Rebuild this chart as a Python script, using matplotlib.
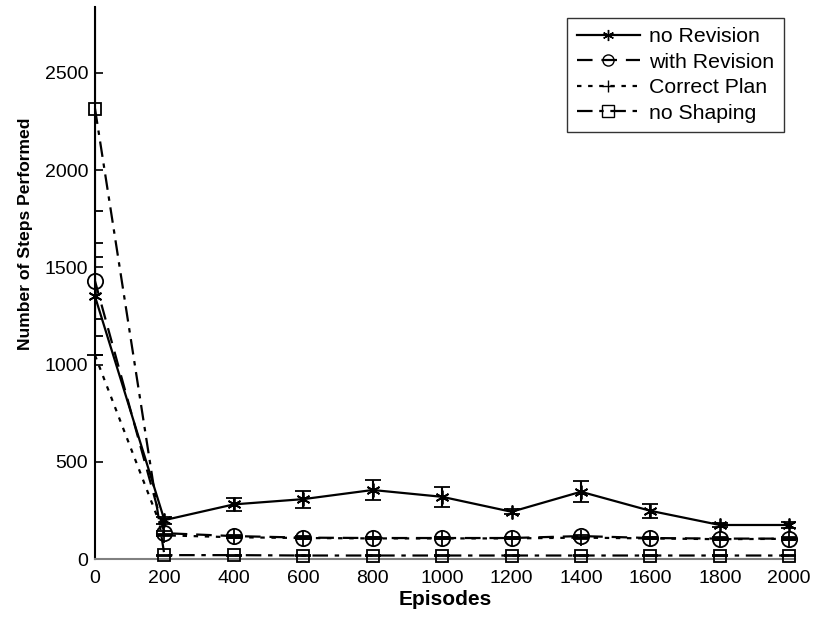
import matplotlib
matplotlib.use("Agg")
import matplotlib.pyplot as plt

plt.rcParams['font.family'] = ['Liberation Sans', 'DejaVu Sans']

episodes = [0, 200, 400, 600, 800, 1000, 1200, 1400, 1600, 1800, 2000]

no_revision = [1351, 200, 281, 308, 355, 320, 243, 346, 248, 175, 175]
no_revision_err = [203, 18, 32, 44, 53, 52, 14, 54, 36, 12, 15]

with_revision = [1430, 133, 118, 110, 108, 108, 108, 118, 108, 105, 105]
with_revision_err = [193, 10, 8, 8, 6, 6, 6, 8, 6, 6, 6]

correct_plan = [1048, 122, 112, 108, 106, 106, 106, 110, 106, 102, 104]
correct_plan_err = [0, 6, 5, 5, 5, 5, 5, 5, 5, 5, 5]

no_shaping = [2317, 20, 20, 18, 18, 18, 18, 18, 18, 18, 18]
no_shaping_err = [525, 3, 3, 3, 3, 3, 3, 3, 3, 3, 3]

labels = ['no Revision', 'with Revision', 'Correct Plan', 'no Shaping']
x_ticks = [0, 200, 400, 600, 800, 1000, 1200, 1400, 1600, 1800, 2000]
y_ticks = [0, 500, 1000, 1500, 2000, 2500]

fig = plt.figure(figsize=(8.16, 6.19), dpi=100)
ax = fig.add_axes([0.1164, 0.0969, 0.858, 0.892])

asterisk = (6, 2, 0)
common = dict(color='black', lw=1.6, capsize=6, elinewidth=1.5, capthick=1.5,
              markerfacecolor='none', markeredgecolor='black', markeredgewidth=1.3)

series = [
    (no_revision, no_revision_err, '-', asterisk, 10),
    (with_revision, with_revision_err, (0, (7, 4)), 'o', 11),
    (correct_plan, correct_plan_err, (0, (2, 3)), '+', 11),
    (no_shaping, no_shaping_err, (0, (7, 3, 2, 3)), 's', 8),
]

handles = []
for (vals, errs, ls, mk, ms), label in zip(series, labels):
    cont = ax.errorbar(episodes, vals, yerr=errs, linestyle=ls, marker=mk,
                       markersize=ms, zorder=3, **common)
    cont[0].set_clip_on(False)
    cont[0].set_label(label)
    handles.append(cont[0])

ax.set_xlim(0, 2017)
ax.set_ylim(0, 2840)
ax.set_xticks(x_ticks)
ax.set_yticks(y_ticks)
ax.tick_params(axis='y', direction='in', length=6, width=1.2, labelsize=14, pad=5)
ax.tick_params(axis='x', length=0, labelsize=14, pad=8)

ax.spines['top'].set_visible(False)
ax.spines['right'].set_visible(False)
ax.spines['left'].set_linewidth(1.5)
ax.spines['bottom'].set_linewidth(1.5)
ax.spines['bottom'].set_color('#808080')

ax.set_xlabel('Episodes', fontsize=15, fontweight='bold', labelpad=2)
ax.set_ylabel('Number of Steps Performed', fontsize=12.6, fontweight='bold')
ax.yaxis.set_label_coords(-0.088, 0.59)

leg = ax.legend(handles=handles, labels=labels, loc='upper right',
                bbox_to_anchor=(0.984, 0.98),
                fontsize=15.3, frameon=True, fancybox=False, edgecolor='black',
                handlelength=3.0, handletextpad=0.42, borderpad=0.45, labelspacing=0.3,
                borderaxespad=0.0)
leg.get_frame().set_linewidth(1.0)
for h in leg.legend_handles:
    h.set_markersize(8)
    h.set_markeredgewidth(1.0)

fig.savefig('out.png', dpi=100)
